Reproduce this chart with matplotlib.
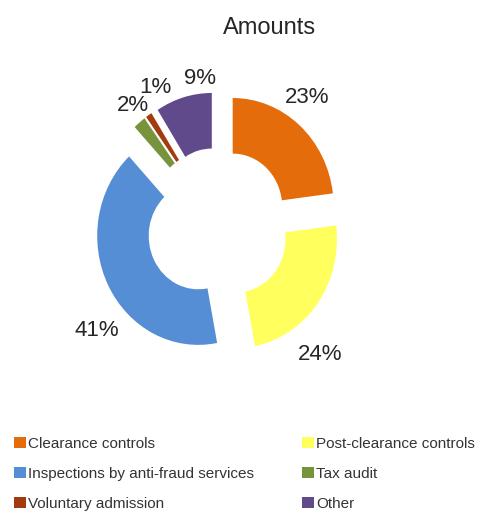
import matplotlib.pyplot as plt

plt.rcParams['font.family'] = ['Liberation Sans', 'DejaVu Sans']

# data
categories = ['Clearance controls', 'Post-clearance controls', 'Inspections by anti-fraud services',
              'Tax audit', 'Voluntary admission', 'Other']
shares = [23, 24, 41, 2, 1, 9]
colors = ['#E46C0A', '#FFFF5E', '#558ED5', '#77933C', '#A33B0E', '#604A8B']

# label placement (relative to pie centre, data units)
label_xy = [(0.88, 1.17), (1.01, -1.19), (-1.20, -0.97), (-0.84, 1.10), (-0.62, 1.26), (-0.18, 1.34)]

fig = plt.figure(figsize=(4.82, 5.11), dpi=100)
ax = fig.add_axes([0, 0, 1, 1])

wedges, _ = ax.pie(shares, colors=colors, startangle=90, counterclock=False,
                   explode=[0.22] * len(shares),
                   wedgeprops=dict(width=0.51, linewidth=0))

for (x, y), v in zip(label_xy, shares):
    ax.text(x, y, f'{v}%', ha='center', va='center', fontsize=16, color='#262626')

# slightly wider than tall, like the source image
ax.set_aspect('auto')
ax.set_xlim(-218 / 101, (482 - 218) / 101)
ax.set_ylim(-286 / 109, 225 / 109)
ax.axis('off')

fig.text(270 / 482, 1 - 28 / 511, 'Amounts', ha='center', va='center', fontsize=17, color='#262626')

# legend reads row by row in the source, matplotlib fills columns
order = [0, 2, 4, 1, 3, 5]
leg = fig.legend([wedges[i] for i in order], [categories[i] for i in order], ncol=2,
                 loc='upper left', bbox_to_anchor=(0.017, 1 - 431 / 511),
                 frameon=False, fontsize=11, handlelength=0.75, handleheight=0.75,
                 handletextpad=0.15, columnspacing=3.15, labelspacing=1.05, borderaxespad=0)
for t in leg.get_texts():
    t.set_color('#333333')

fig.savefig('out.png', dpi=100)
